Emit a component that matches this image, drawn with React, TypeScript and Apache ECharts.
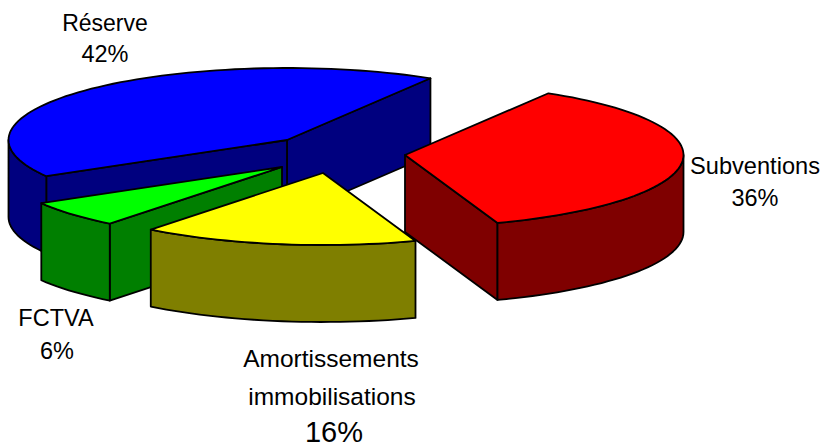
import React, { useEffect, useRef } from "react";
import * as echarts from "echarts";

// Data, in the pie's angular order (counter-clockwise from the start angle)
const categories = ["Réserve", "FCTVA", "Amortissements immobilisations", "Subventions"];
const values = [42, 6, 16, 36];

// Styles and layout
const topColors = ["#0000ff", "#00ff00", "#ffff00", "#ff0000"];
const sideColors = ["#00007f", "#007f00", "#7f7f00", "#7f0000"];
const apexes = [[287, 140], [282, 167], [323, 173], [405, 155]];
const drawOrder = [0, 3, 1, 2];
const labelLines = [
  [["Réserve", 105, 23, 23], ["42%", 105, 54, 23.5]],
  [["FCTVA", 56, 318, 23.5], ["6%", 57, 351, 23.5]],
  [["Amortissements", 331, 358, 24.5], ["immobilisations", 332, 396, 24.5], ["16%", 334, 432, 29]],
  [["Subventions", 755, 166, 23.6], ["36%", 755, 198, 23.5]],
];
const RX = 278.5;
const RY = 72;
const DEPTH = 77;
const START_ANGLE = 59;
const LINE = 1.8;
const FONT = '"Liberation Sans", Arial, sans-serif';

const rad = (d: number) => (d * Math.PI) / 180;

function arcPoints(cx: number, cy: number, a0: number, a1: number, dy = 0): number[][] {
  const n = Math.max(2, Math.ceil(Math.abs(a1 - a0) / 2));
  const pts: number[][] = [];
  for (let i = 0; i <= n; i++) {
    const a = rad(a0 + ((a1 - a0) * i) / n);
    pts.push([cx + RX * Math.cos(a), cy - RY * Math.sin(a) + dy]);
  }
  return pts;
}

function renderItem(params: any, api: any) {
  const idx = api.value(0) as number;
  const total = values.reduce((s, v) => s + v, 0);
  const before = values.slice(0, idx).reduce((s, v) => s + v, 0);
  const a0 = START_ANGLE + (before / total) * 360;
  const a1 = a0 + (api.value(1) / total) * 360;
  const [cx, cy] = apexes[idx];
  const side = { fill: sideColors[idx], stroke: "#000", lineWidth: LINE, lineJoin: "round" };
  const children: any[] = [];

  const cut = (a: number) => {
    const p = [cx + RX * Math.cos(rad(a)), cy - RY * Math.sin(rad(a))];
    children.push({
      type: "polygon",
      shape: { points: [[cx, cy], p, [p[0], p[1] + DEPTH], [cx, cy + DEPTH]] },
      style: side,
    });
  };
  if (Math.cos(rad(a0)) > 0) cut(a0);
  if (Math.cos(rad(a1)) < 0) cut(a1);

  const w0 = Math.max(a0, 180);
  const w1 = Math.min(a1, 360);
  if (w1 > w0) {
    const upper = arcPoints(cx, cy, w0, w1);
    const lower = arcPoints(cx, cy, w1, w0, DEPTH);
    children.push({ type: "polygon", shape: { points: [...upper, ...lower] }, style: side });
  }

  children.push({
    type: "polygon",
    shape: { points: [[cx, cy], ...arcPoints(cx, cy, a0, a1)] },
    style: { fill: topColors[idx], stroke: "#000", lineWidth: LINE, lineJoin: "round" },
  });

  for (const [text, x, y, size] of labelLines[idx] as any[]) {
    children.push({
      type: "text",
      x,
      y,
      style: {
        text,
        fill: "#000",
        fontFamily: FONT,
        fontSize: size,
        textAlign: "center",
        textVerticalAlign: "middle",
      },
    });
  }
  return { type: "group", children };
}

export default function App() {
  const ref = useRef<HTMLDivElement>(null);
  useEffect(() => {
    document.body.style.margin = "0";
    const chart = echarts.init(ref.current!, undefined, { renderer: "svg" });
    chart.setOption({
      animation: false,
      backgroundColor: "#ffffff",
      series: [
        {
          type: "custom",
          coordinateSystem: "none",
          silent: true,
          renderItem,
          data: drawOrder.map((i) => ({ name: categories[i], value: [i, values[i]] })),
        },
      ],
    });
    return () => chart.dispose();
  }, []);
  return <div ref={ref} style={{ width: 825, height: 447 }} />;
}
